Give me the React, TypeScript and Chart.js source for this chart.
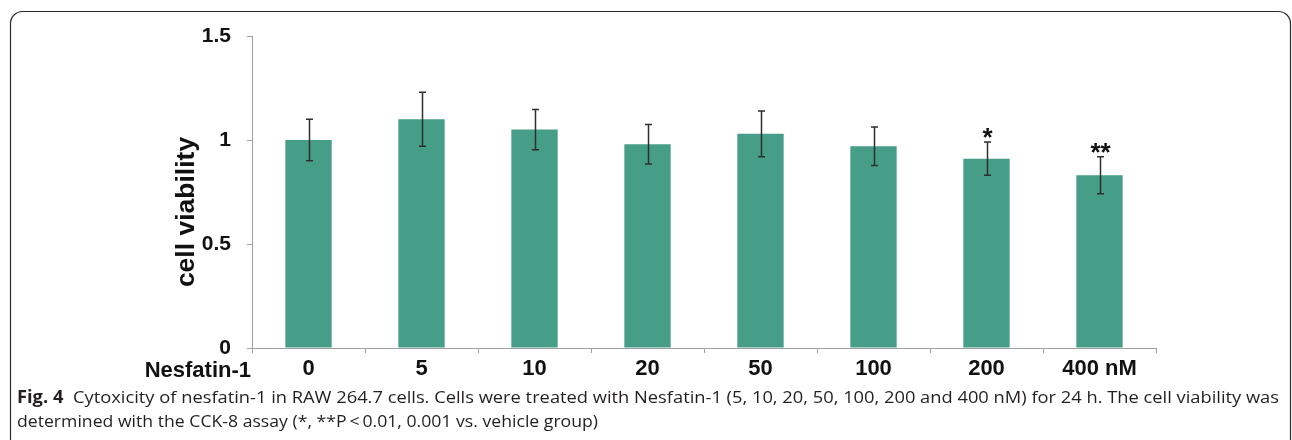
import React, { useEffect, useRef } from 'react';
import { Chart, registerables } from 'chart.js';

Chart.register(...registerables);

// ---- data ----
const categories = ['0', '5', '10', '20', '50', '100', '200', '400 nM'];
const viability = [1.0, 1.1, 1.05, 0.98, 1.03, 0.97, 0.91, 0.83];
const errors = [0.1, 0.13, 0.097, 0.095, 0.11, 0.092, 0.08, 0.089];
const significance = ['', '', '', '', '', '', '*', '**'];
const yTicks = [0, 0.5, 1, 1.5];
const yTickLabels = ['0', '0.5', '1', '1.5'];
const yTitle = 'cell viability';
const xPrefix = 'Nesfatin-1';
const captionBold = 'Fig. 4';
const captionLine1 =
  'Cytoxicity of nesfatin-1 in RAW 264.7 cells. Cells were treated with Nesfatin-1 (5, 10, 20, 50, 100, 200 and 400 nM) for 24 h. The cell viability was';
const captionLine2 = 'determined with the CCK-8 assay (*, **P\u2009<\u20090.01, 0.001 vs. vehicle group)';

const AXIS_FONT = '"Liberation Sans", Arial, Helvetica, sans-serif';
const CAPTION_FONT = '"Open Sans", "Noto Sans", sans-serif';

const decor = {
  id: 'decor',
  beforeDraw(chart: any) {
    const ctx = chart.ctx as CanvasRenderingContext2D;
    ctx.save();
    ctx.fillStyle = '#ffffff';
    ctx.fillRect(0, 0, chart.width, chart.height);
    ctx.strokeStyle = '#2a2a2a';
    ctx.lineWidth = 1.2;
    ctx.beginPath();
    ctx.moveTo(10.5, chart.height + 4);
    ctx.lineTo(10.5, 24);
    ctx.arcTo(10.5, 11.5, 23, 11.5, 12);
    ctx.lineTo(1278, 11.5);
    ctx.arcTo(1290.5, 11.5, 1290.5, 24, 12);
    ctx.lineTo(1290.5, chart.height + 4);
    ctx.stroke();
    ctx.restore();
  },
  afterDatasetsDraw(chart: any) {
    const ctx = chart.ctx as CanvasRenderingContext2D;
    const xs = chart.scales.x;
    const ys = chart.scales.y;
    ctx.save();
    ctx.strokeStyle = '#2e2e2e';
    ctx.lineWidth = 1.5;
    const cap = 3.5;
    viability.forEach((v, i) => {
      const x = Math.round(xs.getPixelForValue(i)) + 0.5;
      const yTop = ys.getPixelForValue(v + errors[i]);
      const yBot = ys.getPixelForValue(v - errors[i]);
      ctx.beginPath();
      ctx.moveTo(x, yTop);
      ctx.lineTo(x, yBot);
      ctx.moveTo(x - cap, yTop);
      ctx.lineTo(x + cap, yTop);
      ctx.moveTo(x - cap, yBot);
      ctx.lineTo(x + cap, yBot);
      ctx.stroke();
      if (significance[i]) {
        ctx.fillStyle = '#111';
        ctx.font = `bold 26px ${AXIS_FONT}`;
        ctx.textAlign = 'center';
        ctx.textBaseline = 'alphabetic';
        ctx.fillText(significance[i], x, yTop + 4);
      }
    });
    ctx.restore();
  },
  afterDraw(chart: any) {
    const ctx = chart.ctx as CanvasRenderingContext2D;
    const area = chart.chartArea;
    ctx.save();
    // y-axis title
    ctx.fillStyle = '#111';
    ctx.font = `bold 26.5px ${AXIS_FONT}`;
    ctx.textAlign = 'center';
    ctx.textBaseline = 'middle';
    ctx.translate(187, (area.top + area.bottom) / 2 + 20);
    ctx.rotate(-Math.PI / 2);
    ctx.fillText(yTitle, 0, 0);
    ctx.restore();

    // x prefix label
    ctx.save();
    ctx.fillStyle = '#111';
    ctx.font = `bold 22px ${AXIS_FONT}`;
    ctx.textAlign = 'right';
    ctx.textBaseline = 'middle';
    ctx.fillText(xPrefix, area.left - 1, area.bottom + 23);
    ctx.restore();

    // caption
    ctx.save();
    ctx.fillStyle = '#231f20';
    ctx.textBaseline = 'alphabetic';
    ctx.textAlign = 'left';
    const boldFont = `bold 17px ${CAPTION_FONT}`;
    const regFont = `17px ${CAPTION_FONT}`;
    ctx.font = boldFont;
    const wb = ctx.measureText(captionBold).width;
    ctx.font = regFont;
    const gap = 9;
    const w1 = ctx.measureText(captionLine1).width;
    const w2 = ctx.measureText(captionLine2).width;
    const s1 = (1279 - 17) / (wb + gap + w1);
    const s2 = (598 - 17) / w2;
    ctx.save();
    ctx.translate(17, 403);
    ctx.scale(s1, 1);
    ctx.font = boldFont;
    ctx.fillText(captionBold, 0, 0);
    ctx.font = regFont;
    ctx.fillText(captionLine1, wb + gap, 0);
    ctx.restore();
    ctx.translate(17, 427);
    ctx.scale(s2, 1);
    ctx.font = regFont;
    ctx.fillText(captionLine2, 0, 0);
    ctx.restore();
  },
};

export default function App() {
  const ref = useRef<HTMLCanvasElement | null>(null);
  useEffect(() => {
    document.body.style.margin = '0';
    const canvas = ref.current!;
    const chart = new Chart(canvas, {
      type: 'bar',
      data: {
        labels: categories,
        datasets: [
          {
            data: viability,
            backgroundColor: '#469e88',
            borderWidth: 0,
            barPercentage: 1,
            categoryPercentage: 0.41,
          },
        ],
      },
      options: {
        responsive: false,
        animation: false,
        devicePixelRatio: 1,
        layout: { padding: { left: 0, top: 36, right: 136, bottom: 0 } },
        plugins: { legend: { display: false }, tooltip: { enabled: false } },
        scales: {
          x: {
            grid: {
              display: true,
              drawOnChartArea: false,
              drawTicks: true,
              tickLength: 5,
              color: '#a0a0a0',
              offset: true,
            },
            border: { display: true, color: '#a0a0a0', width: 1 },
            ticks: {
              color: '#111',
              padding: 3,
              font: { family: AXIS_FONT, size: 22, weight: 'bold' },
              maxRotation: 0,
              autoSkip: false,
            },
            afterFit: (scale: any) => {
              scale.height = 92;
            },
          },
          y: {
            min: 0,
            max: 1.5,
            afterBuildTicks: (scale: any) => {
              scale.ticks = yTicks.map((v) => ({ value: v }));
            },
            grid: {
              display: true,
              drawOnChartArea: false,
              drawTicks: true,
              tickLength: 5,
              color: '#a0a0a0',
            },
            border: { display: true, color: '#a0a0a0', width: 1 },
            ticks: {
              color: '#111',
              padding: 16,
              font: { family: AXIS_FONT, size: 21, weight: 'bold' },
              callback: (value: any) => {
                const idx = yTicks.indexOf(Number(value));
                return idx >= 0 ? yTickLabels[idx] : '';
              },
            },
            afterFit: (scale: any) => {
              scale.width = 252;
            },
          },
        },
      },
      plugins: [decor],
    });
    return () => chart.destroy();
  }, []);
  return <canvas ref={ref} width={1292} height={440} style={{ display: 'block' }} />;
}
